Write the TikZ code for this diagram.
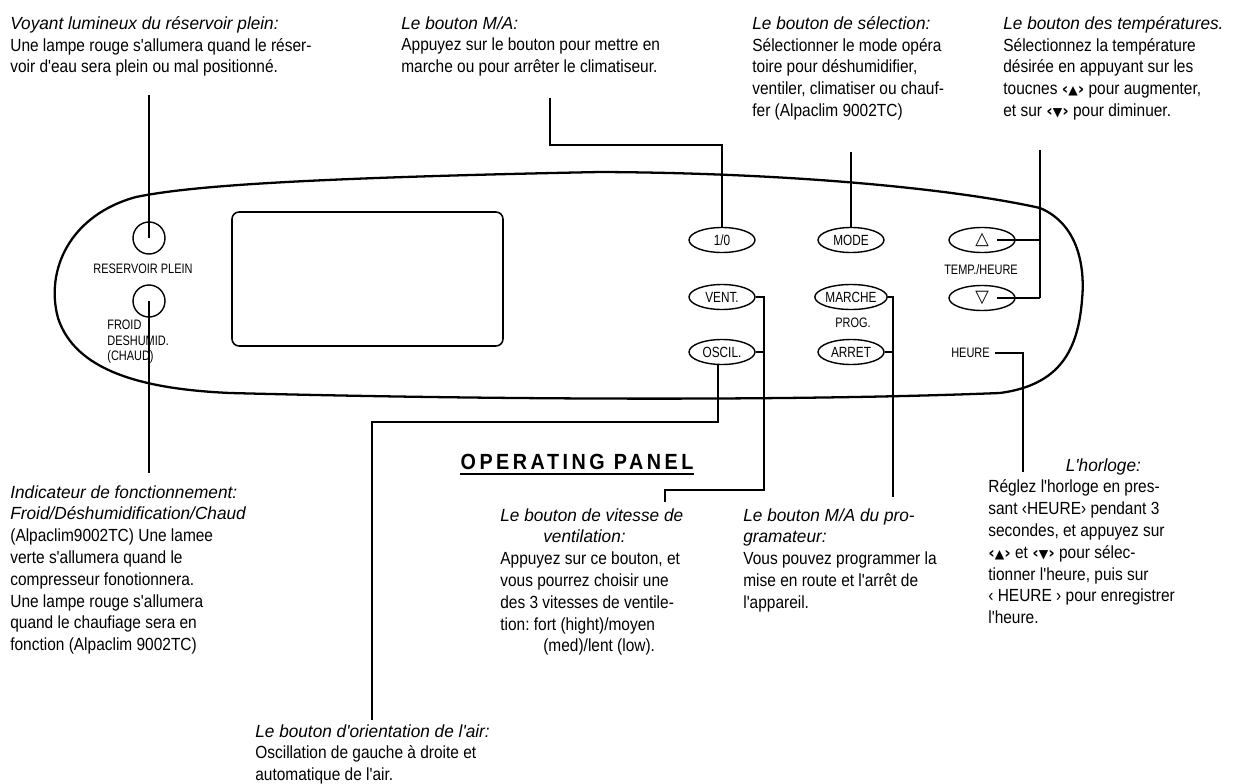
\documentclass[tikz,border=0pt]{standalone}
\usepackage{fontspec}
\usetikzlibrary{shapes.geometric}
\setmainfont{Liberation Sans}[FakeStretch=0.88,Ligatures=TeXOff]
\newfontfamily\itf{Liberation Sans}[FakeStretch=0.98]
\newfontfamily\cond{Liberation Sans}[FakeStretch=0.8]
\newfontfamily\opf{Liberation Sans}[FakeStretch=0.9,LetterSpace=16]
\newfontfamily\sym{DejaVu Sans}
\newcommand\ti[1]{{\itf\itshape #1}}
\newcommand\hbr[1]{{\sym\bfseries\fontsize{9}{9}\selectfont ‹}{\sym\fontsize{7}{7}\selectfont #1}{\sym\bfseries\fontsize{9}{9}\selectfont ›}}
\frenchspacing
\begin{document}
\begin{tikzpicture}[x=0.02cm,y=-0.02cm,
  body/.style={font=\frenchspacing\fontsize{10}{12.4}\selectfont, align=left, anchor=north west, inner sep=0pt},
  lbl/.style={font=\cond\fontsize{7.8}{8.8}\selectfont, inner sep=0pt},
  btn/.style={draw, line width=0.8pt, ellipse, inner sep=0pt, minimum width=1.32cm, minimum height=0.5cm, font=\cond\fontsize{8.4}{8.4}\selectfont},
  lamp/.style={draw, circle, line width=0.8pt, inner sep=0pt, minimum size=0.64cm},
  lead/.style={draw, line width=0.6pt},
  panel/.style={draw, line width=1.3pt}]
\useasboundingbox[fill=white] (0,0) rectangle (1234,784);

% panel outline
\draw[panel] (136,197) .. controls (190,186) and (300,178) .. (600,172)
  .. controls (800,173) and (960,190) .. (1040,208)
  .. controls (1080,225) and (1085,270) .. (1082,300)
  .. controls (1078,350) and (1060,385) .. (1000,393)
  .. controls (800,401) and (500,400) .. (230,393)
  .. controls (140,389) and (75,370) .. (58,318)
  .. controls (45,270) and (70,215) .. (136,197) -- cycle;

% display
\node[draw, line width=0.9pt, rounded corners=4pt, minimum width=5.42cm, minimum height=2.68cm, inner sep=0pt] (disp) at (367.5,279) {};

% lamps
\node[lamp] (r1) at (149,238) {};
\node[lbl] (rp) at (143,269) {RESERVOIR PLEIN};
\node[lamp] (r2) at (149,301) {};
\node[lbl, align=left, anchor=north west] (fr) at (107,320) {FROID\\DESHUMID.\\(CHAUD)};

% buttons
\node[btn] (io) at (722,240) {1/0};
\node[btn] (mode) at (851,240) {MODE};
\node[btn] (up) at (982,240) {{\sym\fontsize{10}{10}\selectfont △}};
\node[lbl] (th) at (981,270) {TEMP./HEURE};
\node[btn] (down) at (982,298) {{\sym\fontsize{10}{10}\selectfont ▽}};
\node[btn] (vent) at (722,297) {VENT.};
\node[btn] (marche) at (851,297) {MARCHE};
\node[lbl] (prog) at (853,323) {PROG.};
\node[btn] (oscil) at (722,352) {OSCIL.};
\node[btn] (arret) at (851,352) {ARRET};
\node[lbl, anchor=east] (heure) at (990,353) {HEURE};

% texts top
\node[body] (ta) at (10,16) {\ti{Voyant lumineux du réservoir plein:}\\Une lampe rouge s'allumera quand le réser-\\voir d'eau sera plein ou mal positionné.};
\node[body] (tb) at (401,16) {\ti{Le bouton M/A:}\\Appuyez sur le bouton pour mettre en\\marche ou pour arrêter le climatiseur.};
\node[body] (tc) at (752,16) {\ti{Le bouton de sélection:}\\Sélectionner le mode opéra\\toire pour déshumidifier,\\ventiler, climatiser ou chauf-\\fer (Alpaclim 9002TC)};
\node[body] (td) at (1003,16) {\ti{Le bouton des températures.}\\Sélectionnez la température\\désirée en appuyant sur les\\toucnes \hbr{▲} pour augmenter,\\et sur \hbr{▼} pour diminuer.};

% texts bottom
\node[body] (te) at (10,485) {\ti{Indicateur de fonctionnement:}\\\ti{Froid/Déshumidification/Chaud}\\(Alpaclim9002TC) Une lamee\\verte s'allumera quand le\\compresseur fonotionnera.\\Une lampe rouge s'allumera\\quand le chaufiage sera en\\fonction (Alpaclim 9002TC)};
\node[font=\opf\bfseries\fontsize{12.5}{12.5}\selectfont, inner sep=0pt] (op) at (577,462) {OPERATING PANEL};
\draw[line width=1.1pt] ([yshift=-2pt]op.south west) -- ([yshift=-2pt]op.south east);
\node[body] (tv) at (500,508) {\ti{Le bouton de vitesse de}\\\hspace*{0.86cm}\ti{ventilation:}\\Appuyez sur ce bouton, et\\vous pourrez choisir une\\des 3 vitesses de ventile-\\tion: fort (hight)/moyen\\\hspace*{0.86cm}(med)/lent (low).};
\node[body] (tm) at (743,508) {\ti{Le bouton M/A du pro-}\\\ti{gramateur:}\\Vous pouvez programmer la\\mise en route et l'arrêt de\\l'appareil.};
\node[body] (th2) at (988,458) {\hspace*{1.55cm}\ti{L'horloge:}\\Réglez l'horloge en pres-\\sant ‹HEURE› pendant 3\\secondes, et appuyez sur\\\hbr{▲} et \hbr{▼} pour sélec-\\tionner l'heure, puis sur\\‹ HEURE › pour enregistrer\\l'heure.};
\node[body] (to) at (255,724) {\ti{Le bouton d'orientation de l'air:}\\Oscillation de gauche à droite et\\automatique de l'air.};

% leaders
\coordinate (la) at (149,95);
\draw[lead] (la) -- (r1.center);
\coordinate (lb) at (550,98);
\coordinate (lbk) at (722,145);
\draw[lead] (lb) |- (lbk) -- (io.north);
\coordinate (lc) at (851,152);
\draw[lead] (lc) -- (mode.north);
\coordinate (ld) at (1040,150);
\coordinate (ldb) at (1040,298);
\draw[lead] (ld) -- (ldb);
\draw[lead] ([xshift=0.3cm]up.center) -- (up.center -| ld);
\draw[lead] ([xshift=0.3cm]down.center) -- (ldb);
\coordinate (le) at (149,473);
\draw[lead] (r2.center) -- (le);
\coordinate (lo1) at (718,422);
\coordinate (lo2) at (372,720);
\draw[lead] (lo1 |- oscil.south) -- (lo1) -| (lo2);
\coordinate (lv1) at (764,490);
\coordinate (lv2) at (665,502);
\draw[lead] (vent.east) -| (lv1) -| (lv2);
\draw[lead] (oscil.east) -- (oscil.east -| lv1);
\coordinate (lm) at (893,497);
\draw[lead] (marche.east) -| (lm);
\draw[lead] (arret.east) -- (arret.east -| lm);
\coordinate (lh) at (1023,472);
\draw[lead] ([xshift=3pt]heure.east) -| (lh);
\end{tikzpicture}
\end{document}
